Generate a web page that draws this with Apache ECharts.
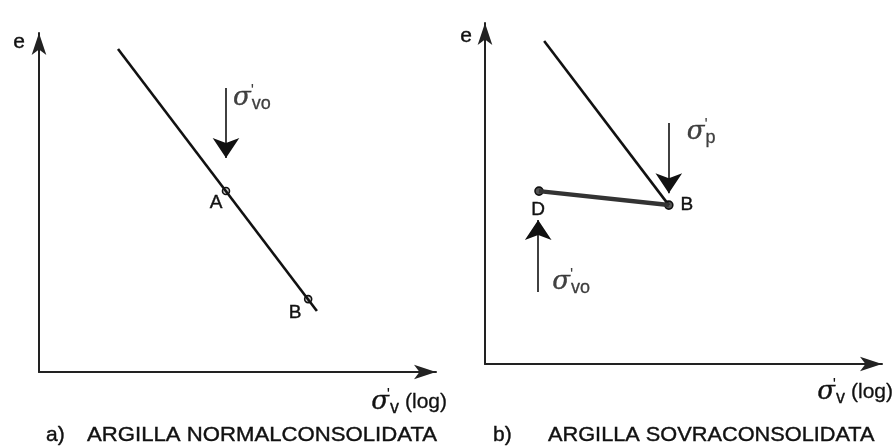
<!DOCTYPE html>
<html><head><meta charset="utf-8">
<script src="https://cdn.jsdelivr.net/npm/echarts@6/dist/echarts.min.js"></script>
<style>html,body{margin:0;padding:0;background:#fff}#c{width:895px;height:448px}</style>
</head><body><div id="c"></div>
<script>
// ---- Panel a: normally consolidated clay (axis units 0..100, log scale implied) ----
const aLineX = [19.9, 70.0];
const aLineY = [95.3, 18.0];
const aPointNames = ['A', 'B'];
const aPointX = [47.1, 67.8];
const aPointY = [53.4, 21.5];
const aArrowX = [47.1, 47.1];
const aArrowY = [83.8, 63.1];
// ---- Panel b: overconsolidated clay ----
const bVirginX = [14.9, 46.3];
const bVirginY = [94.7, 46.6];
const bUnloadX = [13.6, 46.3];
const bUnloadY = [50.7, 46.6];
const bPointNames = ['D', 'B'];
const bPointX = [13.6, 46.3];
const bPointY = [50.7, 46.6];
const bArrowPX = [46.3, 46.3];
const bArrowPY = [70.7, 50.1];
const bArrowVX = [13.4, 13.4];
const bArrowVY = [21.1, 42.2];
// ---- texts ----
const yName = 'e';
const xNameSub = 'v';
const xNameTail = '(log)';
const arrowSubs = ['vo', 'p', 'vo'];
const captionTags = ['a)', 'b)'];
const captions = ['ARGILLA NORMALCONSOLIDATA', 'ARGILLA SOVRACONSOLIDATA'];

const INK = '#111';
const SANS = 'Liberation Sans, Arial, sans-serif';
// rich styles for series labels (echarts label naming)
const sigmaRich = {
  s: {fontFamily: 'DejaVu Serif', fontStyle: 'italic', fontSize: 26, color: INK, lineHeight: 30, verticalAlign: 'middle', textBorderColor: INK, textBorderWidth: 0.4},
  p: {fontFamily: SANS, fontSize: 17, color: INK, verticalAlign: 'top', width: 1, lineHeight: 26},
  b: {fontFamily: SANS, fontSize: 18, color: INK, verticalAlign: 'bottom', lineHeight: 26, textBorderColor: INK, textBorderWidth: 0.3},
  t: {fontFamily: SANS, fontSize: 21, color: INK, verticalAlign: 'middle', lineHeight: 30, textBorderColor: INK, textBorderWidth: 0.3, padding: [0, 0, 0, 6]}
};
// same styles for graphic text (zrender naming)
const sigmaRichG = {};
Object.keys(sigmaRich).forEach(k => {
  const r = Object.assign({}, sigmaRich[k]);
  r.fill = r.color; delete r.color;
  if (r.textBorderColor) { r.stroke = r.textBorderColor; r.lineWidth = r.textBorderWidth; }
  delete r.textBorderColor; delete r.textBorderWidth;
  sigmaRichG[k] = r;
});
function sig(sub) { return '{s|σ}{p|\'}{b|' + sub + '}'; }

function axis(gi) {
  return {
    gridIndex: gi, type: 'value', min: 0, max: 100,
    axisLine: {show: true, onZero: false, symbol: ['none', 'arrow'], symbolSize: [11, 22],
      lineStyle: {color: '#222', width: 2}},
    axisTick: {show: false}, axisLabel: {show: false}, splitLine: {show: false}
  };
}
function pairs(xs, ys) { return xs.map((x, i) => [x, ys[i]]); }

const aLabelOffsets = {A: [-10, 12], B: [-13, 14]};
const bLabelOffsets = {D: [-1, 19], B: [18, 0]};
const pointLabel = {show: true, position: 'inside', formatter: '{b}', color: INK, fontFamily: SANS, fontSize: 19,
  textBorderColor: INK, textBorderWidth: 0.4};
const textStyleBase = {fill: INK, stroke: INK, lineWidth: 0.4, font: '21px Liberation Sans', verticalAlign: 'middle', textVerticalAlign: 'middle'};

const option = {
  animation: false,
  backgroundColor: '#fff',
  grid: [
    {left: 39, top: 33, width: 397, height: 339},
    {left: 485, top: 23, width: 397, height: 341}
  ],
  xAxis: [axis(0), axis(1)],
  yAxis: [axis(0), axis(1)],
  series: [
    {type: 'line', xAxisIndex: 0, yAxisIndex: 0, data: pairs(aLineX, aLineY), symbol: 'none',
      lineStyle: {color: INK, width: 2.6}},
    {type: 'lines', coordinateSystem: 'cartesian2d', xAxisIndex: 0, yAxisIndex: 0,
      symbol: ['none', 'arrow'], symbolSize: [10, 20],
      lineStyle: {color: INK, width: 1.6, opacity: 1},
      data: [{coords: pairs(aArrowX, aArrowY)}]},
    {type: 'scatter', xAxisIndex: 0, yAxisIndex: 0, symbol: 'circle', symbolSize: 7,
      itemStyle: {color: '#cfcfcf', borderColor: INK, borderWidth: 1.6, opacity: 1},
      label: pointLabel,
      data: aPointNames.map((n, i) => ({name: n, value: [aPointX[i], aPointY[i]], label: {offset: aLabelOffsets[n]}}))},
    {type: 'scatter', xAxisIndex: 0, yAxisIndex: 0, symbolSize: 0,
      label: {show: true, position: 'right', distance: 7, offset: [0, 10], formatter: sig(arrowSubs[0]), rich: sigmaRich},
      data: [[aArrowX[0], aArrowY[0]]]},

    {type: 'line', xAxisIndex: 1, yAxisIndex: 1, data: pairs(bVirginX, bVirginY), symbol: 'none',
      lineStyle: {color: INK, width: 2.6}},
    {type: 'line', xAxisIndex: 1, yAxisIndex: 1, data: pairs(bUnloadX, bUnloadY), symbol: 'none',
      lineStyle: {color: '#333', width: 4.5}},
    {type: 'lines', coordinateSystem: 'cartesian2d', xAxisIndex: 1, yAxisIndex: 1,
      symbol: ['none', 'arrow'], symbolSize: [10, 20],
      lineStyle: {color: INK, width: 1.6, opacity: 1},
      data: [{coords: pairs(bArrowPX, bArrowPY)}, {coords: pairs(bArrowVX, bArrowVY)}]},
    {type: 'scatter', xAxisIndex: 1, yAxisIndex: 1, symbol: 'circle', symbolSize: 8,
      itemStyle: {color: '#555', borderColor: INK, borderWidth: 1.6, opacity: 1},
      label: pointLabel,
      data: bPointNames.map((n, i) => ({name: n, value: [bPointX[i], bPointY[i]], label: {offset: bLabelOffsets[n]}}))},
    {type: 'scatter', xAxisIndex: 1, yAxisIndex: 1, symbolSize: 0,
      label: {show: true, position: 'right', distance: 18, offset: [0, 9], formatter: sig(arrowSubs[1]), rich: sigmaRich},
      data: [[bArrowPX[0], bArrowPY[0]]]},
    {type: 'scatter', xAxisIndex: 1, yAxisIndex: 1, symbolSize: 0,
      label: {show: true, position: 'right', distance: 14, offset: [0, -10], formatter: sig(arrowSubs[2]), rich: sigmaRich},
      data: [[bArrowVX[0], bArrowVY[0]]]}
  ],
  graphic: [
    {type: 'text', x: 19, y: 42, style: Object.assign({}, textStyleBase, {text: yName, align: 'center', textAlign: 'center'})},
    {type: 'text', x: 466, y: 36, style: Object.assign({}, textStyleBase, {text: yName, align: 'center', textAlign: 'center'})},
    {type: 'text', x: 447, y: 402, style: {text: sig(xNameSub) + '{t|' + xNameTail + '}', rich: sigmaRichG, align: 'right', verticalAlign: 'middle', textAlign: 'right', textVerticalAlign: 'middle'}},
    {type: 'text', x: 893, y: 392, style: {text: sig(xNameSub) + '{t|' + xNameTail + '}', rich: sigmaRichG, align: 'right', verticalAlign: 'middle', textAlign: 'right', textVerticalAlign: 'middle'}},
    {type: 'text', x: 46, y: 435, style: Object.assign({}, textStyleBase, {text: captionTags[0]})},
    {type: 'text', x: 87, y: 435, scaleX: 1.055, style: Object.assign({}, textStyleBase, {text: captions[0]})},
    {type: 'text', x: 493, y: 435, style: Object.assign({}, textStyleBase, {text: captionTags[1]})},
    {type: 'text', x: 548, y: 435, scaleX: 1.035, style: Object.assign({}, textStyleBase, {text: captions[1]})}
  ]
};
const chart = echarts.init(document.getElementById('c'));
chart.setOption(option);
</script>
</body></html>
